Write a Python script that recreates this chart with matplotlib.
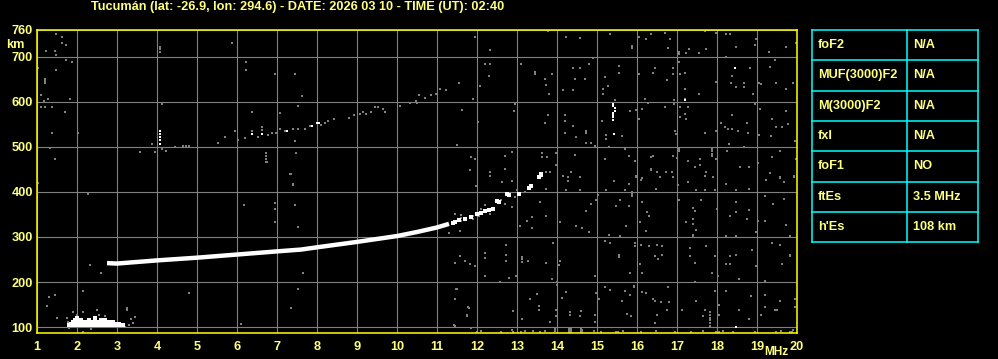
import matplotlib
matplotlib.use('Agg')
import matplotlib.pyplot as plt

plt.rcParams['font.family'] = ['Liberation Sans', 'DejaVu Sans']

YEL = '#ffff80'
GRAY = '#808080'
FS = 9.2

title = 'Tucumán (lat: -26.9, lon: 294.6) - DATE: 2026 03 10 - TIME (UT): 02:40'

# main F trace (white, continuous part)
trace_f = [2.75, 3.0, 4.0, 5.0, 6.0, 7.0, 7.6, 8.0, 9.0, 10.0, 10.5, 11.0, 11.3]
trace_h = [242, 241, 248, 254, 261, 268, 272, 277, 289, 302, 311, 321, 329]

# broken part of the trace at higher frequencies
frag_f = [11.4, 11.45, 11.55, 11.7, 11.85, 12.0, 12.1, 12.2, 12.3, 12.4, 12.5, 12.55,
          12.75, 12.8, 13.05, 13.3, 13.35, 13.55, 13.6, 13.6]
frag_h = [331, 334, 338, 340, 345, 350, 354, 357, 360, 362, 380, 378,
          395, 393, 396, 408, 412, 433, 437, 440]

# sporadic E (white)
es_f = [1.8, 1.85, 1.9, 1.95, 2.0, 2.05, 2.1, 2.15, 2.2, 2.25, 2.3, 2.35, 2.4, 2.45,
        2.5, 2.55, 2.6, 2.65, 2.7, 2.75, 2.8, 2.85, 2.9, 2.95, 3.0, 3.05, 3.1, 3.15,
        1.85, 1.9, 2.0, 2.05, 2.1, 2.2, 2.25, 2.3, 2.4, 2.45, 2.5, 2.6, 2.65, 2.7,
        2.8, 2.85, 2.95, 3.05,
        1.9, 2.0, 2.05, 2.15, 2.25, 2.3, 2.4, 2.5, 2.55, 2.65, 2.7, 2.75, 2.85, 2.9,
        1.95, 2.1, 2.3, 2.45, 2.6, 2.7, 2.0, 2.45]
es_h = [104] * 28 + [108] * 18 + [112] * 14 + [116] * 6 + [120] * 2

# isolated white echoes
white_f = [4.08, 4.08, 4.08, 4.08, 4.08, 6.38, 6.63, 7.25, 7.88, 8.0, 8.05,
           15.4, 15.4, 15.45, 15.45, 15.4, 15.4, 15.4, 15.4, 15.43, 18.44, 17.19, 18.47]
white_h = [535, 528, 521, 514, 507, 528, 528, 535, 546, 552, 552,
           595, 590, 585, 580, 575, 570, 565, 560, 528, 675, 603, 100]

# second hop (gray)
f2_f = [3.58, 3.88, 3.94, 4.13, 4.23, 4.44, 4.65, 4.72, 4.8, 5.53, 5.69, 5.94, 6.03,
        6.19, 6.38, 6.53, 6.63, 6.63, 6.78, 6.88, 6.98, 7.07, 7.19, 7.4, 7.53, 7.69,
        7.82, 8.1, 8.2, 8.28, 8.43, 8.81, 8.93, 9.07, 9.15, 9.23, 9.36, 9.44, 9.53,
        9.65, 9.69, 10.08, 10.32, 10.48, 10.5, 10.55, 10.69, 10.86, 10.98, 11.08, 11.23]
f2_h = [488, 507, 488, 494, 490, 499, 501, 501, 501, 508, 522, 535, 516,
        520, 535, 522, 543, 537, 526, 531, 531, 539, 535, 539, 539, 539,
        546, 549, 552, 556, 561, 564, 571, 573, 576, 573, 576, 588, 588,
        584, 576, 591, 597, 601, 597, 614, 609, 614, 618, 627, 625]

# scattered gray noise
noise = [
    (11.73, 758), (11.94, 743), (12.33, 715), (13.44, 758), (13.78, 756), (13.9, 758),
    (14.23, 758), (14.22, 743), (14.58, 741), (15.15, 758), (15.33, 749), (15.79, 758),
    (16.04, 743), (15.88, 724), (15.88, 720), (16.23, 739), (16.36, 749), (16.69, 752),
    (16.86, 758), (16.83, 739), (16.78, 719), (17.05, 711), (17.05, 706), (17.23, 707),
    (17.3, 716), (17.55, 707), (17.73, 716), (17.69, 756), (17.98, 752), (18.23, 749),
    (18.33, 749), (18.48, 721), (18.97, 739), (18.94, 725), (19.3, 711), (19.33, 758),
    (19.73, 721), (19.88, 758), (19.98, 730),
    (12.19, 684), (12.33, 684), (12.29, 657), (12.08, 634), (11.54, 642), (11.23, 625),
    (11.07, 627), (11.9, 606), (13.09, 684), (13.44, 666), (13.44, 662), (13.69, 651),
    (13.73, 638), (13.88, 661), (13.8, 616), (14.15, 625), (14.4, 674), (14.58, 674),
    (14.44, 651), (14.69, 651), (14.4, 625), (14.8, 684), (14.9, 696), (15.19, 655),
    (15.15, 629), (15.15, 618), (15.28, 634), (15.54, 679), (15.54, 663), (15.44, 603),
    (16.04, 661), (16.19, 606), (16.44, 674), (16.4, 664), (16.76, 648), (16.9, 674),
    (16.9, 661), (17.08, 661), (17.05, 689), (17.19, 664), (17.19, 629), (17.19, 606),
    (17.55, 616), (17.98, 644), (18.23, 700), (18.38, 657), (18.35, 642), (18.48, 633),
    (18.68, 642), (18.68, 632), (18.83, 675), (18.9, 616), (19.05, 642), (19.1, 639),
    (19.44, 692), (19.32, 677), (19.48, 642), (19.73, 629), (19.9, 642),
    (11.63, 582), (12.02, 555), (12.94, 595), (12.92, 579), (13.78, 571), (13.69, 552),
    (14.19, 571), (14.19, 556), (14.19, 531), (14.4, 546), (14.48, 522), (14.73, 535),
    (14.73, 530), (14.86, 509), (14.94, 501), (15.13, 558), (15.23, 525), (15.23, 517),
    (15.63, 524), (15.83, 580), (15.98, 582), (16.13, 584), (16.05, 561), (16.28, 597),
    (16.7, 589), (16.93, 594), (16.93, 603), (17.08, 588), (17.08, 567), (17.19, 573),
    (17.23, 561), (17.28, 589), (16.94, 535), (16.98, 528), (17.69, 530), (17.98, 535),
    (18.09, 552), (18.19, 544), (18.28, 540), (18.38, 540), (18.38, 571), (18.53, 535),
    (18.74, 552), (18.78, 531), (18.94, 594), (19.05, 526), (19.08, 584), (19.38, 561),
    (19.48, 544), (19.63, 544), (19.78, 550), (19.73, 580), (19.34, 524), (19.94, 513),
    (18.3, 505), (18.68, 500), (11.5, 504), (14.73, 509),
    (11.86, 477), (11.94, 472), (11.83, 449), (12.33, 445), (12.33, 436), (12.69, 480),
    (12.69, 451), (12.88, 489), (13.63, 487), (13.63, 477), (13.75, 477), (13.73, 445),
    (13.82, 445), (13.98, 487), (13.97, 460), (14.15, 436), (14.28, 434), (14.44, 481),
    (14.36, 445), (14.58, 432), (15.19, 472), (15.3, 499), (15.69, 494), (15.8, 479),
    (15.98, 434), (16.13, 430), (15.94, 469), (16.36, 477), (16.36, 451), (16.36, 448),
    (16.4, 479), (16.5, 445), (16.73, 445), (16.88, 445), (16.9, 480), (17.0, 475),
    (17.05, 494), (17.05, 490), (17.28, 468), (17.44, 454), (17.58, 472), (17.58, 459),
    (17.72, 445), (17.88, 495), (17.88, 490), (17.88, 485), (17.88, 480), (17.97, 472),
    (18.25, 490), (18.58, 454), (18.8, 456), (19.02, 464), (19.33, 441), (19.38, 477),
    (19.57, 490), (19.57, 434), (19.92, 434), (19.98, 472),
    (12.33, 435), (12.63, 422), (12.88, 425), (11.98, 413), (13.0, 403), (13.72, 407),
    (13.55, 430), (14.15, 435), (14.28, 424), (14.57, 433), (14.23, 403), (14.57, 403),
    (15.03, 394), (15.22, 405), (15.42, 425), (15.69, 403), (15.8, 418), (15.88, 400),
    (15.88, 395), (15.88, 390), (15.98, 435), (16.1, 427), (16.58, 433), (16.48, 407),
    (16.9, 433), (17.03, 416), (17.28, 422), (17.47, 403), (17.69, 435), (17.69, 403),
    (17.9, 433), (17.94, 403), (18.22, 418), (18.48, 405), (18.8, 407), (19.23, 427),
    (19.58, 431), (19.68, 422), (19.92, 435),
    (11.58, 313), (11.42, 329), (12.33, 351), (12.11, 361), (12.69, 373), (12.88, 366),
    (13.08, 324), (13.38, 344), (13.38, 319), (13.25, 336), (13.58, 378), (13.73, 346),
    (14.08, 333), (14.48, 324), (14.63, 320), (14.73, 357), (14.86, 373), (14.8, 311),
    (14.98, 381), (15.3, 305), (15.48, 368), (15.58, 381), (15.8, 368), (15.73, 324),
    (15.58, 301), (16.13, 378), (16.25, 356), (16.3, 346), (16.07, 333), (16.23, 314),
    (17.05, 381), (17.23, 333), (17.4, 364), (17.45, 358), (17.4, 339), (17.4, 329),
    (17.48, 316), (17.6, 381), (17.4, 305), (17.4, 301), (18.0, 361), (18.23, 301),
    (18.47, 301), (18.33, 346), (18.47, 356), (18.48, 378), (18.8, 359), (18.75, 339),
    (19.03, 335), (19.2, 336), (19.2, 390), (19.4, 373), (19.68, 385), (19.73, 327),
    (19.83, 301), (18.98, 311),
    (11.3, 309), (11.46, 350), (11.6, 336), (11.6, 343), (11.6, 349), (11.9, 340),
    (11.9, 346), (12.05, 347), (12.2, 370), (12.6, 381), (12.95, 388), (13.2, 400),
    (11.58, 257), (11.44, 242), (11.69, 247), (11.83, 240), (11.94, 235), (12.19, 264),
    (12.19, 253), (12.19, 213), (12.73, 283), (12.73, 261), (12.73, 246), (13.13, 255),
    (13.13, 250), (13.13, 245), (13.28, 246), (13.73, 242), (13.9, 287), (14.08, 247),
    (14.05, 237), (12.8, 209), (12.98, 213), (13.88, 207), (14.94, 213), (15.19, 292),
    (15.33, 287), (15.55, 260), (15.55, 255), (15.94, 286), (15.94, 281), (15.83, 220),
    (16.07, 240), (16.09, 283), (16.13, 220), (16.3, 279), (16.44, 257), (16.5, 283),
    (16.62, 279), (16.62, 261), (16.52, 250), (17.33, 276), (17.33, 257), (17.44, 242),
    (17.73, 279), (17.88, 220), (17.94, 257), (18.02, 213), (18.33, 257), (18.33, 240),
    (18.23, 240), (18.47, 261), (18.55, 207), (18.88, 270), (18.98, 235), (19.2, 203),
    (19.38, 287), (19.58, 283), (19.63, 239), (19.83, 261), (19.83, 257),
    (11.48, 185), (11.44, 163), (11.78, 144), (11.75, 126), (11.43, 104), (12.58, 200),
    (12.9, 135), (13.13, 119), (13.32, 163), (13.5, 173), (13.55, 146), (13.55, 139),
    (13.82, 111), (14.0, 200), (14.0, 193), (13.98, 139), (13.98, 124), (14.13, 164),
    (14.23, 179), (14.33, 133), (14.33, 128), (14.61, 135), (14.58, 124), (14.94, 127),
    (14.94, 112), (14.98, 176), (15.05, 163), (15.19, 190), (15.33, 183), (15.69, 181),
    (15.83, 172), (15.63, 157), (15.93, 188), (15.93, 192), (16.13, 179), (16.23, 176),
    (15.85, 124), (15.75, 129), (16.4, 163), (16.44, 157), (16.61, 156), (16.8, 156),
    (16.75, 139), (16.5, 126), (16.44, 110), (16.78, 190), (17.13, 139), (17.44, 201),
    (17.48, 157), (17.65, 124), (17.69, 139), (17.83, 133), (17.83, 127), (17.83, 121),
    (17.83, 115), (17.83, 109), (17.83, 103), (17.94, 181), (18.05, 148), (18.05, 127),
    (18.23, 181), (18.55, 139), (18.8, 117), (18.84, 168), (19.1, 126), (19.2, 144),
    (19.2, 172), (19.45, 139), (19.5, 139), (19.57, 157), (19.94, 163), (19.96, 144),
    (1.48, 749), (1.63, 743), (1.63, 730), (1.73, 726), (1.23, 713), (1.44, 713),
    (1.48, 704), (4.08, 721), (4.08, 716), (4.08, 711), (5.88, 730), (1.73, 693),
    (1.88, 688), (1.03, 675), (1.48, 670), (1.19, 651), (1.19, 646), (1.19, 642),
    (6.23, 688), (6.23, 670), (6.94, 661), (7.44, 661), (7.63, 612), (1.11, 614),
    (1.17, 601), (1.28, 606), (1.83, 606), (1.11, 588), (1.19, 589), (1.38, 589),
    (1.69, 576), (4.13, 594), (6.38, 576), (7.08, 575), (7.53, 590), (1.38, 531),
    (2.03, 531), (1.33, 498), (1.44, 472), (1.03, 420), (6.73, 487), (6.73, 480),
    (6.73, 473), (6.73, 466), (7.48, 487), (7.44, 513), (7.33, 440), (7.4, 417),
    (2.28, 396), (7.34, 439), (7.39, 415), (6.74, 466), (6.18, 370), (6.95, 375),
    (6.95, 362), (6.95, 333), (7.45, 370), (7.53, 322), (7.64, 220), (2.33, 237),
    (2.59, 219), (1.31, 167), (1.45, 171), (1.24, 147), (1.49, 121), (2.14, 180),
    (4.8, 176), (6.09, 108), (7.34, 143), (7.53, 184), (11.49, 184), (11.45, 162),
    (11.8, 143), (11.76, 125), (11.45, 103), (11.84, 98), (2.14, 90),
    (1.78, 112), (1.75, 120), (1.9, 134), (2.16, 133), (2.49, 138), (2.55, 128),
    (3.24, 142), (3.24, 138), (3.45, 123), (3.4, 109), (3.3, 104), (3.2, 100),
    (2.35, 96), (1.8, 98), (2.0, 126), (2.7, 125), (3.35, 118),
    (13.4, 91), (13.57, 90), (13.69, 91), (13.94, 92), (13.94, 95), (14.3, 90),
    (14.3, 93), (14.3, 96), (14.35, 90), (14.35, 93), (14.35, 96), (14.6, 90),
    (14.6, 93), (14.6, 96), (14.63, 90), (14.63, 93), (14.92, 91), (15.11, 90),
    (15.48, 90), (15.52, 90), (15.65, 91), (16.11, 90), (16.48, 91), (16.94, 90),
    (17.36, 90), (17.65, 91), (17.98, 90), (18.0, 90), (18.05, 90), (18.15, 91),
    (18.4, 90), (18.94, 90), (19.48, 90), (19.61, 91), (19.82, 90), (19.88, 90),
    (19.9, 93), (12.0, 90), (12.1, 92), (12.6, 90), (12.88, 93), (12.9, 90),
    (13.1, 90), (13.2, 92),
]
noise_f = [p[0] for p in noise]
noise_h = [p[1] for p in noise]

x_ticks = list(range(1, 21))
y_ticks = [100, 200, 300, 400, 500, 600, 700, 760]

params = ['foF2', 'MUF(3000)F2', 'M(3000)F2', 'fxI', 'foF1', 'ftEs', "h'Es"]
values = ['N/A', 'N/A', 'N/A', 'N/A', 'NO', '3.5 MHz', '108 km']

fig = plt.figure(figsize=(9.98, 3.59), dpi=100, facecolor='black')
ax = fig.add_axes([37 / 998, 26 / 359, 760 / 998, 303.5 / 359])
ax.set_facecolor('black')
ax.set_xlim(1, 20)
ax.set_ylim(87, 760)
ax.set_xticks(x_ticks)
ax.set_xticklabels([str(t) for t in x_ticks])
ax.set_yticks(y_ticks)
ax.grid(color=GRAY, lw=0.8)
ax.set_axisbelow(True)
for s in ax.spines.values():
    s.set_color('#ffff00')
    s.set_linewidth(1.1)
ax.tick_params(length=0, labelsize=FS, labelcolor=YEL)
ax.tick_params(axis='x', pad=6)
ax.tick_params(axis='y', pad=3)
for lab in ax.get_xticklabels() + ax.get_yticklabels():
    lab.set_fontweight('bold')

ax.plot(noise_f, noise_h, 's', ms=1.6, mew=0, color=GRAY, antialiased=False)
ax.plot(f2_f, f2_h, 's', ms=1.7, mew=0, color=GRAY, antialiased=False)
ax.plot(trace_f, trace_h, '-', color='white', lw=3.2, solid_capstyle='butt')
ax.plot(frag_f, frag_h, 's', ms=2.2, mew=0, color='white', antialiased=False)
ax.plot(es_f, es_h, 's', ms=2.4, mew=0, color='white', antialiased=False)
ax.plot(white_f, white_h, 's', ms=1.7, mew=0, color='white', antialiased=False)

fig.text(91 / 998, 1 - 7 / 359, title, ha='left', va='center', color=YEL,
         fontsize=FS, fontweight='bold')
fig.text(6 / 998, 1 - 45 / 359, 'km', ha='left', va='center', color=YEL,
         fontsize=FS, fontweight='bold')
fig.text(788 / 998, 1 - 352 / 359, 'MHz', ha='right', va='center', color=YEL,
         fontsize=8.6, fontweight='bold')

# parameter table
tax = fig.add_axes([812.3 / 998, (359 - 242.3) / 359, 165.4 / 998, 212.3 / 359])
tax.set_xlim(0, 1)
tax.set_ylim(len(params), 0)
tax.axis('off')
for i in range(len(params) + 1):
    tax.plot([0, 1], [i, i], color='#00ffff', lw=1.1, clip_on=False)
for xv in [0, 0.574, 1]:
    tax.plot([xv, xv], [0, len(params)], color='#00ffff', lw=1.1, clip_on=False)
for i, (p, v) in enumerate(zip(params, values)):
    tax.text(0.033, i + 0.5, p, ha='left', va='center', color=YEL,
             fontsize=FS, fontweight='bold')
    tax.text(0.607, i + 0.5, v, ha='left', va='center', color=YEL,
             fontsize=FS, fontweight='bold')

fig.savefig('out.png', dpi=100, facecolor='black')
